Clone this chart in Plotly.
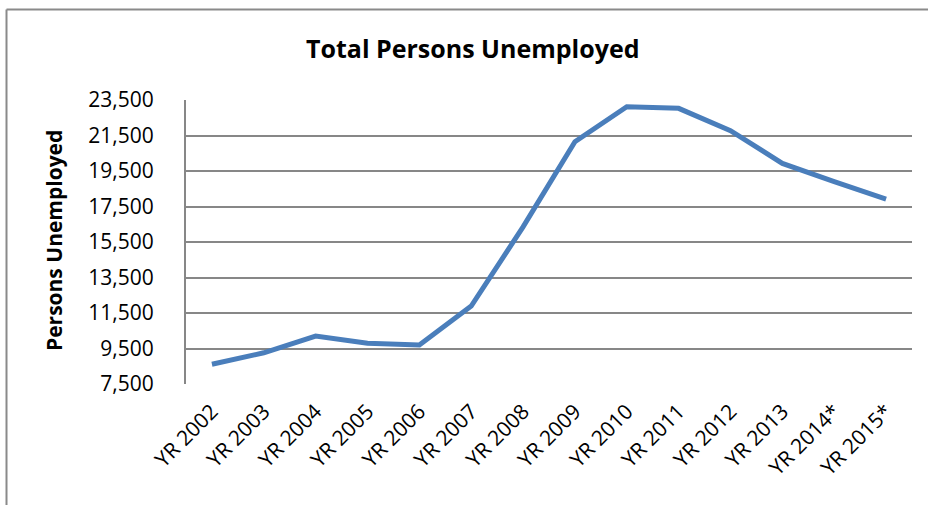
import plotly.graph_objects as go

years = ["YR 2002", "YR 2003", "YR 2004", "YR 2005", "YR 2006", "YR 2007", "YR 2008",
         "YR 2009", "YR 2010", "YR 2011", "YR 2012", "YR 2013", "YR 2014*", "YR 2015*"]
unemployed = [8610, 9260, 10200, 9790, 9700, 11890, 16350,
              21150, 23120, 23030, 21770, 19930, 18900, 17920]
y_ticks = [7500, 9500, 11500, 13500, 15500, 17500, 19500, 21500, 23500]

W, H = 928, 505
L, R, T, B = 186, 16, 100, 121
pw, ph = W - L - R, H - T - B

def px(x):
    return (x - L) / pw

def py(y):
    return (H - B - y) / ph

FONT = "Open Sans"

fig = go.Figure(go.Scatter(
    x=years, y=unemployed, mode="lines",
    line=dict(color="#4a7ebb", width=5),
    hoverinfo="x+y",
))

fig.update_layout(
    width=W, height=H,
    margin=dict(l=L, r=R, t=T, b=B),
    paper_bgcolor="white", plot_bgcolor="white",
    showlegend=False,
    font=dict(family=FONT, color="#000000"),
    xaxis=dict(
        type="category", range=[-0.5, len(years) - 0.5],
        showgrid=False, zeroline=False, showline=False,
        tickangle=-45, tickfont=dict(size=21, family=FONT),
        ticks="outside", ticklen=6, tickcolor="rgba(0,0,0,0)",
    ),
    yaxis=dict(
        range=[7500, 23500], tickvals=y_ticks, tickformat=",",
        showgrid=True, gridcolor="#878787", gridwidth=2,
        zeroline=False, showline=True, linecolor="#878787", linewidth=2,
        tickfont=dict(size=21, family=FONT),
        ticks="outside", ticklen=26, tickcolor="rgba(0,0,0,0)",
    ),
    shapes=[
        # outer chart frame (top and left edges)
        dict(type="line", xref="paper", yref="paper",
             x0=px(6.5), x1=px(940), y0=py(9.5), y1=py(9.5),
             line=dict(color="#8a8a8a", width=2)),
        dict(type="line", xref="paper", yref="paper",
             x0=px(6.5), x1=px(6.5), y0=py(9.5), y1=py(520),
             line=dict(color="#8a8a8a", width=2)),
    ],
    annotations=[
        dict(text="<b>Total Persons Unemployed</b>", xref="paper", yref="paper",
             x=px(473), y=py(48), showarrow=False,
             font=dict(size=25, family=FONT, color="#000000"),
             xanchor="center", yanchor="middle"),
        dict(text="<b>Persons Unemployed</b>", xref="paper", yref="paper",
             x=px(54), y=py(241), showarrow=False, textangle=-90,
             font=dict(size=21, family=FONT, color="#000000"),
             xanchor="center", yanchor="middle"),
    ],
)

fig.write_html("out.html")
